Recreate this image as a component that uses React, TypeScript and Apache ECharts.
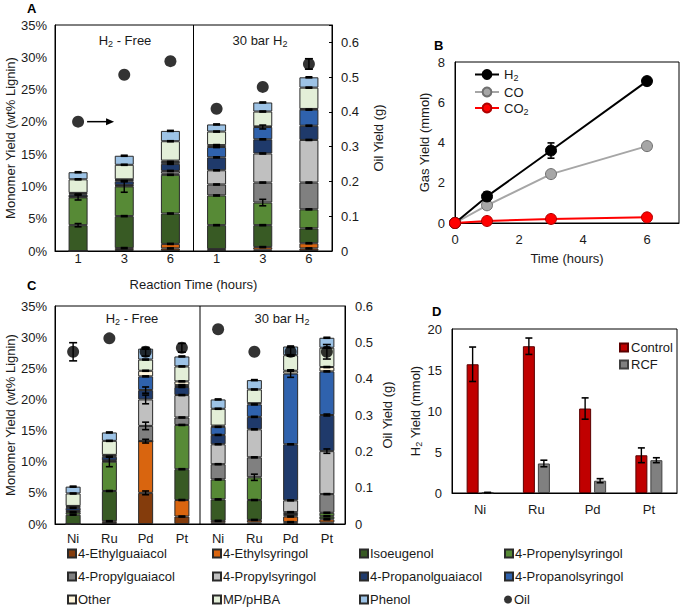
import React, { useEffect, useRef } from "react";
import * as echarts from "echarts";

const FONT = "'Liberation Sans', Arial, sans-serif";
const TXT = "#1a1a1a";

// ---------- compounds (stack order, bottom -> top) ----------
const compoundNames = [
  "4-Ethylguaiacol",
  "4-Ethylsyringol",
  "Isoeugenol",
  "4-Propenylsyringol",
  "4-Propylguaiacol",
  "4-Propylsyringol",
  "4-Propanolguaiacol",
  "4-Propanolsyringol",
  "Other",
  "MP/pHBA",
  "Phenol",
];
const compoundColors = [
  "#843c0c",
  "#d9650f",
  "#385a24",
  "#578a36",
  "#808080",
  "#c0c0c0",
  "#1f3a6b",
  "#2f62ad",
  "#fff6dc",
  "#e3efd8",
  "#9dc3e6",
];

// ---------- Panel A: reaction time ----------
const timeCategories = ["H2free-1", "H2free-3", "H2free-6", "30bar-1", "30bar-3", "30bar-6"];
const timeTickLabels = ["1", "3", "6", "1", "3", "6"];
const timeEthylguaiacol = [0, 0.15, 0.4, 0.1, 0.2, 0.4];
const timeEthylsyringol = [0, 0.3, 0.7, 0.2, 0.4, 0.8];
const timeIsoeugenol = [4.0, 4.95, 4.7, 3.7, 3.4, 2.3];
const timePropenylsyringol = [4.3, 4.6, 6.0, 4.6, 3.5, 2.95];
const timePropylguaiacol = [0.1, 0.1, 0.2, 1.7, 3.1, 4.15];
const timePropylsyringol = [0.05, 0.1, 0.4, 2.2, 4.5, 6.6];
const timePropanolguaiacol = [0.3, 0.6, 1.1, 2.0, 2.2, 2.2];
const timePropanolsyringol = [0.15, 0.2, 0.3, 1.6, 1.9, 2.5];
const timeOther = [0.1, 0.1, 0.2, 0.3, 0.1, 0.1];
const timeMPpHBA = [2.1, 2.25, 3.0, 2.1, 2.3, 3.3];
const timePhenol = [1.1, 1.4, 1.6, 1.1, 1.4, 1.6];
const timeOil = [0.372, 0.507, 0.546, 0.409, 0.472, 0.538];
const timeOilErr = [0, 0, 0, 0, 0, 0.015];
// [category, compound, error] for the larger error bars
const timeBigErrors = [
  [0, 2, 0.25],
  [0, 3, 0.4],
  [1, 3, 0.9],
  [4, 3, 0.5],
  [4, 7, 0.3],
];

// ---------- Panel B: gas yields ----------
const gasTimes = [0, 1, 3, 6];
const gasH2 = [0, 1.32, 3.6, 7.05];
const gasH2Err = [0, 0.22, 0.38, 0.15];
const gasCO = [0, 0.88, 2.43, 3.82];
const gasCO2 = [0, 0.1, 0.2, 0.28];

// ---------- Panel C: metals ----------
const metalCategories = ["H2free-Ni", "H2free-Ru", "H2free-Pd", "H2free-Pt", "30bar-Ni", "30bar-Ru", "30bar-Pd", "30bar-Pt"];
const metalTickLabels = ["Ni", "Ru", "Pd", "Pt", "Ni", "Ru", "Pd", "Pt"];
const metalEthylguaiacol = [0, 0.15, 5.0, 1.2, 0.2, 0.25, 0.3, 0.25];
const metalEthylsyringol = [0, 0.3, 8.3, 2.65, 0.3, 0.4, 0.9, 0.5];
const metalIsoeugenol = [1.5, 4.85, 0, 4.95, 3.45, 3.2, 0.2, 0.5];
const metalPropenylsyringol = [0.4, 4.7, 0, 7.1, 3.2, 3.65, 0.2, 0.55];
const metalPropylguaiacol = [0.1, 0.1, 2.45, 1.2, 2.45, 3.2, 0.3, 3.0];
const metalPropylsyringol = [0.1, 0.1, 4.25, 3.6, 3.2, 4.5, 1.9, 6.9];
const metalPropanolguaiacol = [0.5, 0.6, 1.5, 1.3, 1.5, 2.0, 9.0, 5.8];
const metalPropanolsyringol = [0.2, 0.2, 2.2, 0.3, 1.3, 2.0, 11.35, 7.0];
const metalOther = [0.1, 0.1, 0.9, 0.6, 0.2, 0.2, 0.45, 0.7];
const metalMPpHBA = [2.0, 2.25, 1.8, 2.4, 2.7, 2.2, 2.5, 3.1];
const metalPhenol = [1.1, 1.35, 1.75, 1.6, 1.5, 1.5, 1.4, 1.6];
const metalOil = [0.474, 0.511, 0.474, 0.485, 0.536, 0.474, 0.474, 0.474];
const metalOilErr = [0.025, 0, 0.012, 0.012, 0, 0, 0.012, 0.02];
const metalBigErrors = [
  [1, 3, 0.8],
  [2, 0, 0.3],
  [2, 1, 0.3],
  [2, 4, 0.6],
  [2, 5, 0.7],
  [2, 6, 0.5],
  [5, 3, 0.5],
  [6, 7, 0.6],
  [7, 5, 0.35],
  [7, 6, 0.15],
];

// ---------- Panel D: H2 yield ----------
const h2Metals = ["Ni", "Ru", "Pd", "Pt"];
const h2Control = [15.7, 17.9, 10.3, 4.6];
const h2ControlErr = [2.1, 1.0, 1.3, 0.9];
const h2RCF = [0.05, 3.6, 1.5, 4.0];
const h2RCFErr = [0.03, 0.4, 0.25, 0.3];

const timeStacks = [
  timeEthylguaiacol, timeEthylsyringol, timeIsoeugenol, timePropenylsyringol,
  timePropylguaiacol, timePropylsyringol, timePropanolguaiacol, timePropanolsyringol,
  timeOther, timeMPpHBA, timePhenol,
];
const metalStacks = [
  metalEthylguaiacol, metalEthylsyringol, metalIsoeugenol, metalPropenylsyringol,
  metalPropylguaiacol, metalPropylsyringol, metalPropanolguaiacol, metalPropanolsyringol,
  metalOther, metalMPpHBA, metalPhenol,
];

function stackErrData(stacks: number[][], big: number[][]) {
  const out: number[][] = [];
  const n = stacks[0].length;
  for (let c = 0; c < n; c++) {
    let cum = 0;
    for (let s = 0; s < stacks.length; s++) {
      const v = stacks[s][c];
      cum += v;
      if (v < 0.3) continue;
      const b = big.find((e) => e[0] === c && e[1] === s);
      out.push([c, cum, b ? b[2] : 0.08, 0]);
    }
  }
  return out;
}

function makeErrRender(halfCap: number) {
  return (params: any, api: any) => {
    const x = api.value(0);
    const y = api.value(1);
    const e = api.value(2);
    const off = api.value(3) || 0;
    const top = api.coord([x, y + e]);
    const bot = api.coord([x, y - e]);
    const cx = top[0] + off;
    const st = { stroke: "#000", lineWidth: 1.4 };
    return {
      type: "group",
      children: [
        { type: "line", shape: { x1: cx, y1: top[1], x2: cx, y2: bot[1] }, style: st },
        { type: "line", shape: { x1: cx - halfCap, y1: top[1], x2: cx + halfCap, y2: top[1] }, style: { stroke: "#000", lineWidth: 1.6 } },
        { type: "line", shape: { x1: cx - halfCap, y1: bot[1], x2: cx + halfCap, y2: bot[1] }, style: { stroke: "#000", lineWidth: 1.6 } },
      ],
    };
  };
}

const subRich = {
  sub: { fontSize: 9, fontFamily: FONT, color: TXT, padding: [7, 0, 0, 0] },
};

export default function App() {
  const ref = useRef<HTMLDivElement>(null);
  useEffect(() => {
    if (!ref.current) return;
    const chart = echarts.init(ref.current, undefined, { renderer: "svg" });

    const axisText = { color: TXT, fontSize: 13, fontFamily: FONT };
    const nameText = { color: TXT, fontSize: 13, fontFamily: FONT };
    const blackLine = { show: true, lineStyle: { color: "#000", width: 1 } };

    const series: any[] = [];
    // Panel A stacked bars
    compoundNames.forEach((name, i) => {
      series.push({
        type: "bar",
        name,
        xAxisIndex: 0,
        yAxisIndex: 0,
        stack: "A",
        barWidth: 19,
        data: timeStacks[i],
        itemStyle: { color: compoundColors[i], borderColor: "#2a2a2a", borderWidth: 1 },
      });
    });
    series.push({
      type: "custom",
      name: "errA",
      xAxisIndex: 0,
      yAxisIndex: 0,
      renderItem: makeErrRender(3.5),
      encode: { x: 0, y: 1 },
      data: stackErrData(timeStacks, timeBigErrors),
      z: 5,
    });
    const oilASeriesIndex = series.length;
    series.push({
      type: "scatter",
      name: "Oil",
      xAxisIndex: 0,
      yAxisIndex: 1,
      symbol: "circle",
      symbolSize: 12,
      itemStyle: { color: "#000" },
      data: timeOil,
      z: 6,
    });
    series.push({
      type: "custom",
      name: "errOilA",
      xAxisIndex: 0,
      yAxisIndex: 1,
      renderItem: makeErrRender(4),
      encode: { x: 0, y: 1 },
      data: timeOil.map((v, i) => [i, v, timeOilErr[i], 0]).filter((d) => d[2] > 0),
      z: 7,
    });

    // Panel B lines
    series.push({
      type: "line",
      name: "H2",
      xAxisIndex: 1,
      yAxisIndex: 2,
      data: gasTimes.map((t, i) => [t, gasH2[i]]),
      symbol: "circle",
      symbolSize: 11,
      lineStyle: { color: "#000", width: 2 },
      itemStyle: { color: "#000", borderColor: "#000", borderWidth: 1 },
      z: 4,
    });
    series.push({
      type: "line",
      name: "CO",
      xAxisIndex: 1,
      yAxisIndex: 2,
      data: gasTimes.map((t, i) => [t, gasCO[i]]),
      symbol: "circle",
      symbolSize: 11,
      lineStyle: { color: "#a6a6a6", width: 2 },
      itemStyle: { color: "#a6a6a6", borderColor: "#6f6f6f", borderWidth: 1 },
      z: 3,
    });
    series.push({
      type: "line",
      name: "CO2",
      xAxisIndex: 1,
      yAxisIndex: 2,
      data: gasTimes.map((t, i) => [t, gasCO2[i]]),
      symbol: "circle",
      symbolSize: 11,
      lineStyle: { color: "#ff0000", width: 2 },
      itemStyle: { color: "#ff0000", borderColor: "#b00000", borderWidth: 1 },
      z: 5,
    });
    series.push({
      type: "custom",
      name: "errH2",
      xAxisIndex: 1,
      yAxisIndex: 2,
      renderItem: makeErrRender(3.5),
      encode: { x: 0, y: 1 },
      data: gasTimes.map((t, i) => [t, gasH2[i], gasH2Err[i], 0]).filter((d) => d[2] > 0),
      z: 6,
    });

    // Panel C stacked bars
    compoundNames.forEach((name, i) => {
      series.push({
        type: "bar",
        name,
        xAxisIndex: 2,
        yAxisIndex: 3,
        stack: "C",
        barWidth: 15,
        data: metalStacks[i],
        itemStyle: { color: compoundColors[i], borderColor: "#2a2a2a", borderWidth: 1 },
      });
    });
    series.push({
      type: "custom",
      name: "errC",
      xAxisIndex: 2,
      yAxisIndex: 3,
      renderItem: makeErrRender(3.5),
      encode: { x: 0, y: 1 },
      data: stackErrData(metalStacks, metalBigErrors),
      z: 5,
    });
    series.push({
      type: "scatter",
      name: "Oil",
      xAxisIndex: 2,
      yAxisIndex: 4,
      symbol: "circle",
      symbolSize: 12,
      itemStyle: { color: "#000" },
      data: metalOil,
      z: 6,
    });
    series.push({
      type: "custom",
      name: "errOilC",
      xAxisIndex: 2,
      yAxisIndex: 4,
      renderItem: makeErrRender(4),
      encode: { x: 0, y: 1 },
      data: metalOil.map((v, i) => [i, v, metalOilErr[i], 0]).filter((d) => d[2] > 0),
      z: 7,
    });

    // Panel D bars
    series.push({
      type: "bar",
      name: "Control",
      xAxisIndex: 3,
      yAxisIndex: 5,
      barWidth: 12,
      barGap: "25%",
      data: h2Control,
      itemStyle: { color: "#c00000", borderColor: "#5a0000", borderWidth: 1 },
    });
    series.push({
      type: "bar",
      name: "RCF",
      xAxisIndex: 3,
      yAxisIndex: 5,
      barWidth: 12,
      barGap: "25%",
      data: h2RCF,
      itemStyle: { color: "#808080", borderColor: "#404040", borderWidth: 1 },
    });
    series.push({
      type: "custom",
      name: "errD",
      xAxisIndex: 3,
      yAxisIndex: 5,
      renderItem: makeErrRender(3.5),
      encode: { x: 0, y: 1 },
      data: [
        ...h2Control.map((v, i) => [i, v, h2ControlErr[i], -7.5]),
        ...h2RCF.map((v, i) => [i, v, h2RCFErr[i], 7.5]),
      ],
      z: 5,
    });

    const legendRowTops = [547, 570, 593];
    const legendColLefts = [67, 212, 359, 504];
    const legendNames = [...compoundNames, "Oil"];
    const compoundLegends = legendNames.map((name, i) => ({
      show: true,
      selectedMode: false,
      padding: 0,
      left: legendColLefts[i % 4],
      top: legendRowTops[Math.floor(i / 4)],
      itemWidth: 8,
      itemHeight: 8,
      textStyle: { color: TXT, fontSize: 13, fontFamily: FONT, padding: [0, 0, 0, -3] },
      data: [{ name, icon: name === "Oil" ? "circle" : "rect" }],
    }));

    const option: any = {
      animation: false,
      backgroundColor: "#fff",
      textStyle: { fontFamily: FONT },
      grid: [
        { left: 55, top: 25, width: 277, height: 226, show: true, borderColor: "#000", borderWidth: 1 },
        { left: 455, top: 62, width: 224, height: 161, show: true, borderColor: "#000", borderWidth: 1 },
        { left: 55, top: 306, width: 290, height: 218, show: true, borderColor: "#000", borderWidth: 1 },
        { left: 452, top: 329, width: 225, height: 164, show: true, borderColor: "#000", borderWidth: 1 },
      ],
      xAxis: [
        {
          type: "category",
          gridIndex: 0,
          data: timeCategories,
          axisLine: blackLine,
          axisTick: { show: false },
          axisLabel: { ...axisText, margin: 1, formatter: (_v: string, i: number) => timeTickLabels[i] },
          name: "Reaction Time (hours)",
          nameLocation: "middle",
          nameGap: 27,
          nameTextStyle: nameText,
        },
        {
          type: "value",
          gridIndex: 1,
          min: 0,
          max: 7,
          interval: 2,
          axisLine: blackLine,
          axisTick: { show: false },
          splitLine: { show: false },
          axisLabel: { ...axisText, margin: 10, showMaxLabel: false },
          name: "Time (hours)",
          nameLocation: "middle",
          nameGap: 29,
          nameTextStyle: nameText,
        },
        {
          type: "category",
          gridIndex: 2,
          data: metalCategories,
          axisLine: blackLine,
          axisTick: { show: false },
          axisLabel: { ...axisText, margin: 8, formatter: (_v: string, i: number) => metalTickLabels[i] },
        },
        {
          type: "category",
          gridIndex: 3,
          data: h2Metals,
          axisLine: blackLine,
          axisTick: { show: false },
          axisLabel: { ...axisText, margin: 10 },
        },
      ],
      yAxis: [
        {
          type: "value",
          gridIndex: 0,
          min: 0,
          max: 35,
          interval: 5,
          axisLine: blackLine,
          axisTick: { show: false },
          splitLine: { show: false },
          axisLabel: { ...axisText, margin: 8, formatter: "{value}%" },
          name: "Monomer Yield (wt% Lignin)",
          nameLocation: "middle",
          nameGap: 38,
          nameRotate: 90,
          nameTextStyle: nameText,
        },
        {
          type: "value",
          gridIndex: 0,
          position: "right",
          min: 0,
          max: 0.65,
          interval: 0.1,
          axisLine: blackLine,
          axisTick: { show: true, inside: true, length: 3, lineStyle: { color: "#000" } },
          splitLine: { show: false },
          axisLabel: {
            ...axisText,
            margin: 9,
            formatter: (v: number) => (v > 0.61 ? "" : String(Math.round(v * 10) / 10)),
          },
          name: "Oil Yield (g)",
          nameLocation: "middle",
          nameGap: 40,
          nameRotate: 90,
          nameTextStyle: nameText,
        },
        {
          type: "value",
          gridIndex: 1,
          min: 0,
          max: 8,
          interval: 2,
          axisLine: blackLine,
          axisTick: { show: false },
          splitLine: { show: false },
          axisLabel: { ...axisText, margin: 10 },
          name: "Gas Yield (mmol)",
          nameLocation: "middle",
          nameGap: 24,
          nameRotate: 90,
          nameTextStyle: nameText,
        },
        {
          type: "value",
          gridIndex: 2,
          min: 0,
          max: 35,
          interval: 5,
          axisLine: blackLine,
          axisTick: { show: false },
          splitLine: { show: false },
          axisLabel: { ...axisText, margin: 8, formatter: "{value}%" },
          name: "Monomer Yield (wt% Lignin)",
          nameLocation: "middle",
          nameGap: 38,
          nameRotate: 90,
          nameTextStyle: nameText,
        },
        {
          type: "value",
          gridIndex: 2,
          position: "right",
          min: 0,
          max: 0.6,
          interval: 0.1,
          axisLine: blackLine,
          axisTick: { show: false },
          splitLine: { show: false },
          axisLabel: { ...axisText, margin: 10, formatter: (v: number) => String(Math.round(v * 10) / 10) },
          name: "Oil Yield (g)",
          nameLocation: "middle",
          nameGap: 36,
          nameRotate: 90,
          nameTextStyle: nameText,
        },
        {
          type: "value",
          gridIndex: 3,
          min: 0,
          max: 20,
          interval: 5,
          axisLine: blackLine,
          axisTick: { show: false },
          splitLine: { show: false },
          axisLabel: { ...axisText, margin: 10 },
          name: "H{sub|2} Yield (mmol)",
          nameLocation: "middle",
          nameGap: 28,
          nameRotate: 90,
          nameTextStyle: { ...nameText, rich: subRich },
        },
      ],
      legend: [
        ...compoundLegends,
        {
          show: true,
          selectedMode: false,
          orient: "vertical",
          padding: 0,
          left: 474,
          top: 68,
          itemGap: 3,
          itemWidth: 24,
          itemHeight: 11,
          data: ["H2", "CO", "CO2"],
          formatter: (n: string) => (n === "H2" ? "H{sub|2}" : n === "CO2" ? "CO{sub|2}" : n),
          textStyle: { color: TXT, fontSize: 13, fontFamily: FONT, rich: subRich },
        },
        {
          show: true,
          selectedMode: false,
          orient: "vertical",
          padding: 0,
          left: 619,
          top: 341,
          itemGap: 4,
          itemWidth: 8,
          itemHeight: 8,
          data: [
            { name: "Control", icon: "rect" },
            { name: "RCF", icon: "rect" },
          ],
          textStyle: { color: TXT, fontSize: 13, fontFamily: FONT, padding: [0, 0, 0, -2] },
        },
      ],
      series,
    };

    chart.setOption(option);

    // pixel positions derived from the axes
    const px = (finder: any, v: any) => chart.convertToPixel(finder, v) as unknown as number;
    const dividerA =
      (px({ xAxisIndex: 0 }, timeCategories[2]) + px({ xAxisIndex: 0 }, timeCategories[3])) / 2;
    const dividerC =
      (px({ xAxisIndex: 2 }, metalCategories[3]) + px({ xAxisIndex: 2 }, metalCategories[4])) / 2;
    const aTop = px({ yAxisIndex: 0 }, 35);
    const aBot = px({ yAxisIndex: 0 }, 0);
    const cTop = px({ yAxisIndex: 3 }, 35);
    const cBot = px({ yAxisIndex: 3 }, 0);

    const p = chart.convertToPixel({ seriesIndex: oilASeriesIndex }, [0, timeOil[0]]) as number[];
    const ax1 = p[0] + 9;
    const ax2 = p[0] + 36;
    const letter = (t: string, x: number, y: number) => ({
      type: "text",
      x,
      y,
      style: { text: t, fill: "#000", font: `bold 13px ${FONT}` },
    });
    const panelTitle = (t: string, x: number, y: number) => ({
      type: "text",
      x,
      y,
      style: {
        text: t,
        fill: TXT,
        font: `13px ${FONT}`,
        align: "center",
        verticalAlign: "middle",
        rich: { sub: { fontSize: 9, fontFamily: FONT, fill: TXT, padding: [7, 0, 0, 0] } },
      },
    });
    chart.setOption({
      graphic: [
        letter("A", 27, 2),
        letter("B", 434, 39),
        letter("C", 27, 279),
        letter("D", 432, 305),
        panelTitle("H{sub|2} - Free", 125, 40),
        panelTitle("30 bar H{sub|2}", 260, 40),
        panelTitle("H{sub|2} - Free", 132, 318),
        panelTitle("30 bar H{sub|2}", 282, 318),
        {
          type: "line",
          shape: { x1: dividerA, y1: aTop, x2: dividerA, y2: aBot },
          style: { stroke: "#000", lineWidth: 1 },
        },
        {
          type: "line",
          shape: { x1: dividerC, y1: cTop, x2: dividerC, y2: cBot },
          style: { stroke: "#000", lineWidth: 1 },
        },
        { type: "line", shape: { x1: ax1, y1: p[1], x2: ax2 - 6, y2: p[1] }, style: { stroke: "#000", lineWidth: 1.5 } },
        {
          type: "polygon",
          shape: { points: [[ax2, p[1]], [ax2 - 8, p[1] - 3.5], [ax2 - 8, p[1] + 3.5]] },
          style: { fill: "#000" },
        },
      ],
    });

    return () => chart.dispose();
  }, []);

  return (
    <div
      ref={ref}
      style={{ position: "fixed", left: 0, top: 0, width: 682, height: 609, background: "#fff" }}
    />
  );
}
